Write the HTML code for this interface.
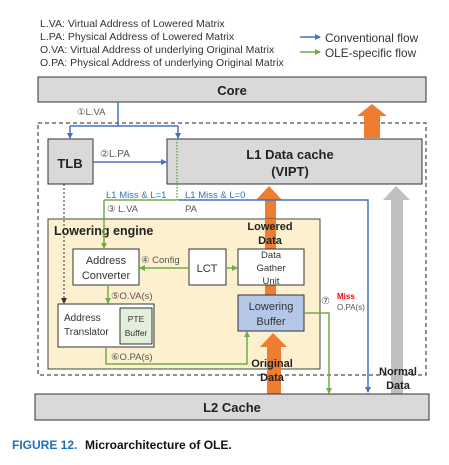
<!DOCTYPE html>
<html><head><meta charset="utf-8"><style>body{margin:0;background:#fff}svg{display:block}text{font-family:"Liberation Sans",sans-serif}</style></head><body>
<svg width="449" height="465" viewBox="0 0 449 465" xmlns="http://www.w3.org/2000/svg">
<defs>
<marker id="ab" markerWidth="6" markerHeight="6" refX="5" refY="3" orient="auto" markerUnits="userSpaceOnUse"><path d="M0,0 L6,3 L0,6z" fill="#4472c4"/></marker>
<marker id="ag" markerWidth="6" markerHeight="6" refX="5" refY="3" orient="auto" markerUnits="userSpaceOnUse"><path d="M0,0 L6,3 L0,6z" fill="#70ad47"/></marker>
<marker id="ak" markerWidth="6" markerHeight="6" refX="5" refY="3" orient="auto" markerUnits="userSpaceOnUse"><path d="M0,0 L6,3 L0,6z" fill="#333"/></marker>
</defs>
<g font-size="10.5" fill="#333">
<text x="40" y="27">L.VA: Virtual Address of Lowered Matrix</text>
<text x="40" y="40">L.PA: Physical Address of Lowered Matrix</text>
<text x="40" y="53">O.VA: Virtual Address of underlying Original Matrix</text>
<text x="40" y="66">O.PA: Physical Address of underlying Original Matrix</text>
</g>
<line x1="300" y1="37" x2="320" y2="37" stroke="#4472c4" stroke-width="1.5" marker-end="url(#ab)"/>
<line x1="300" y1="52" x2="320" y2="52" stroke="#70ad47" stroke-width="1.5" marker-end="url(#ag)"/>
<text x="325" y="42" font-size="11.8" fill="#333">Conventional flow</text>
<text x="325" y="57" font-size="11.8" fill="#333">OLE-specific flow</text>

<rect x="38" y="77" width="388" height="25" fill="#d9d9d9" stroke="#333"/>
<text x="232" y="95" font-size="13" font-weight="bold" text-anchor="middle" fill="#222">Core</text>
<rect x="38" y="123" width="388" height="252" fill="none" stroke="#222" stroke-dasharray="4,3"/>

<path d="M364,138 V116 H357 L372,104 L387,116 H380 V138z" fill="#ed7d31"/>

<rect x="48" y="139" width="45" height="45" fill="#d9d9d9" stroke="#333"/>
<text x="70" y="168" font-size="13" font-weight="bold" text-anchor="middle" fill="#222">TLB</text>
<rect x="167" y="139" width="255" height="45" fill="#d9d9d9" stroke="#333"/>
<text x="290" y="159" font-size="13" font-weight="bold" text-anchor="middle" fill="#222">L1 Data cache</text>
<text x="290" y="176" font-size="13" font-weight="bold" text-anchor="middle" fill="#222">(VIPT)</text>

<path d="M118,102 V126 M70,126 H178" stroke="#4472c4" stroke-width="1.5" fill="none"/>
<line x1="70" y1="126" x2="70" y2="138" stroke="#4472c4" stroke-width="1.5" marker-end="url(#ab)"/>
<line x1="178" y1="126" x2="178" y2="138" stroke="#4472c4" stroke-width="1.5" marker-end="url(#ab)"/>
<text x="77" y="115" font-size="9.5" fill="#555">①L.VA</text>
<line x1="93" y1="162" x2="166" y2="162" stroke="#4472c4" stroke-width="1.5" marker-end="url(#ab)"/>
<text x="100" y="157" font-size="10" fill="#555">②L.PA</text>

<path d="M391,394 V200 H383 L396,186 L410,200 H403 V394z" fill="#bfbfbf"/>
<path d="M265,290 V200 H256 L269,186 L282,200 H276 V290z" fill="#ed7d31"/>

<path d="M178,200 H368 V392" stroke="#4472c4" stroke-width="1.5" fill="none" marker-end="url(#ab)"/>
<text x="106" y="198" font-size="9.5" fill="#2e75b6">L1 Miss &amp; L=1</text>
<text x="185" y="198" font-size="9.5" fill="#2e75b6">L1 Miss &amp; L=0</text>
<line x1="177" y1="139" x2="177" y2="200" stroke="#70ad47" stroke-width="1.5" stroke-dasharray="1.5,1.5"/>
<text x="107" y="212" font-size="9.5" fill="#555">③ L.VA</text>
<text x="185" y="212" font-size="9.5" fill="#555">PA</text>

<rect x="48" y="219" width="272" height="150" fill="#fdf0cf" stroke="#444"/>
<text x="54" y="235" font-size="12.5" font-weight="bold" fill="#222">Lowering engine</text>
<path d="M104,200 H177" stroke="#70ad47" stroke-width="1.5"/>
<line x1="104" y1="200" x2="104" y2="248" stroke="#70ad47" stroke-width="1.5" marker-end="url(#ag)"/>
<path d="M64,184 V303" stroke="#333" stroke-dasharray="2,2" marker-end="url(#ak)"/>

<rect x="265" y="219" width="11" height="76" fill="#ed7d31"/>
<text x="270" y="230" font-size="11" font-weight="bold" text-anchor="middle" fill="#222">Lowered</text>
<text x="270" y="244" font-size="11" font-weight="bold" text-anchor="middle" fill="#222">Data</text>

<rect x="73" y="249" width="66" height="36" fill="#fff" stroke="#333"/>
<text x="106" y="264" font-size="11" text-anchor="middle" fill="#333">Address</text>
<text x="106" y="279" font-size="11" text-anchor="middle" fill="#333">Converter</text>
<rect x="189" y="249" width="37" height="36" fill="#fff" stroke="#333"/>
<text x="207" y="272" font-size="11" text-anchor="middle" fill="#333">LCT</text>
<rect x="238" y="249" width="66" height="36" fill="#fff" stroke="#333"/>
<text x="271" y="258" font-size="9.5" text-anchor="middle" fill="#333">Data</text>
<text x="271" y="271" font-size="9.5" text-anchor="middle" fill="#333">Gather</text>
<text x="271" y="284" font-size="9.5" text-anchor="middle" fill="#333">Unit</text>
<line x1="189" y1="268" x2="140" y2="268" stroke="#70ad47" stroke-width="1.5" marker-end="url(#ag)"/>
<line x1="226" y1="268" x2="237" y2="268" stroke="#70ad47" stroke-width="1.5" marker-end="url(#ag)"/>
<text x="141" y="263" font-size="9.5" fill="#555">④ Config</text>

<rect x="238" y="295" width="66" height="36" fill="#b4c7e7" stroke="#333"/>
<text x="271" y="310" font-size="11" text-anchor="middle" fill="#333">Lowering</text>
<text x="271" y="325" font-size="11" text-anchor="middle" fill="#333">Buffer</text>

<line x1="108" y1="285" x2="108" y2="303" stroke="#70ad47" stroke-width="1.5" marker-end="url(#ag)"/>
<text x="111" y="299" font-size="9.5" fill="#555">⑤O.VA(s)</text>
<rect x="58" y="304" width="96" height="43" fill="#fff" stroke="#333"/>
<text x="64" y="321" font-size="10" fill="#333">Address</text>
<text x="64" y="335" font-size="10" fill="#333">Translator</text>
<rect x="120" y="308" width="32" height="36" fill="#e2efda" stroke="#333"/>
<text x="136" y="322" font-size="8.5" text-anchor="middle" fill="#333">PTE</text>
<text x="136" y="336" font-size="8.5" text-anchor="middle" fill="#333">Buffer</text>
<path d="M106,347 V364 H247 V332" stroke="#70ad47" stroke-width="1.5" fill="none" marker-end="url(#ag)"/>
<text x="111" y="360" font-size="9.5" fill="#555">⑥O.PA(s)</text>

<path d="M304,313 H329 V393" stroke="#70ad47" stroke-width="1.5" fill="none" marker-end="url(#ag)"/>
<text x="321" y="304" font-size="10" fill="#555">⑦</text>
<text x="337" y="299" font-size="8" font-weight="bold" fill="#ff0000">Miss</text>
<text x="337" y="310" font-size="8" fill="#555">O.PA(s)</text>

<path d="M267,394 V347 H260 L273,333 L287,347 H281 V394z" fill="#ed7d31"/>
<text x="272" y="367" font-size="11" font-weight="bold" text-anchor="middle" fill="#222">Original</text>
<text x="272" y="381" font-size="11" font-weight="bold" text-anchor="middle" fill="#222">Data</text>
<text x="398" y="375" font-size="11" font-weight="bold" text-anchor="middle" fill="#222">Normal</text>
<text x="398" y="389" font-size="11" font-weight="bold" text-anchor="middle" fill="#222">Data</text>

<rect x="35" y="394" width="394" height="26" fill="#d9d9d9" stroke="#333"/>
<text x="232" y="412" font-size="13" font-weight="bold" text-anchor="middle" fill="#222">L2 Cache</text>

<text x="12" y="449" font-size="12" font-weight="bold" fill="#1f6fb5">FIGURE 12.</text>
<text x="85" y="449" font-size="12" font-weight="bold" fill="#111">Microarchitecture of OLE.</text>
</svg>
</body></html>
